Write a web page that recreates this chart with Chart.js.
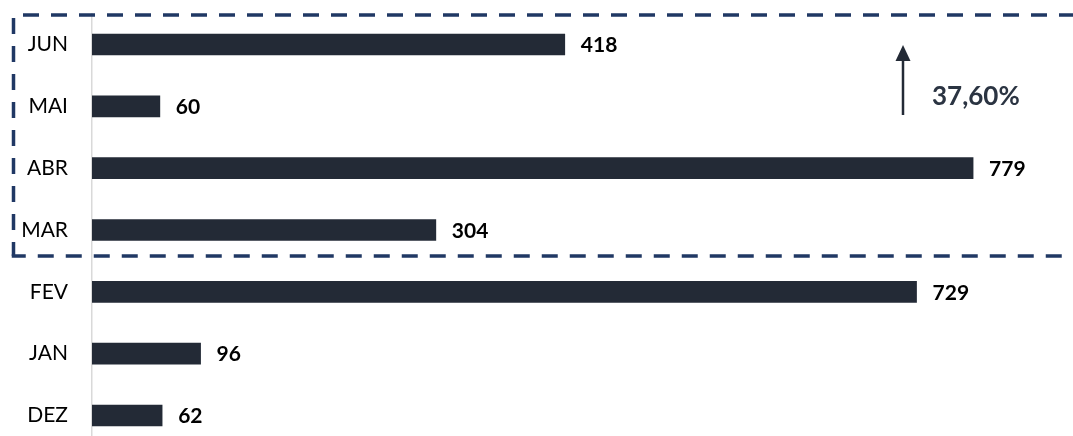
<!DOCTYPE html>
<html>
<head>
<meta charset="utf-8">
<script src="https://cdn.jsdelivr.net/npm/chart.js@4"></script>
<style>
  html, body { margin: 0; padding: 0; background: #ffffff; overflow: hidden; }
  #wrap { width: 1073px; height: 436px; overflow: hidden; }
</style>
</head>
<body>
<div id="wrap"><canvas id="c" width="1073" height="448"></canvas></div>
<script>
const categories = ["JUN", "MAI", "ABR", "MAR", "FEV", "JAN", "DEZ"];
const values = [418, 60, 779, 304, 729, 96, 62];
const growthLabel = "37,60%";

const BAR_COLOR = "#232a36";
const FRAME_COLOR = "#203864";

const decorPlugin = {
  id: "decor",
  afterDatasetsDraw(chart) {
    const ctx = chart.ctx;
    const meta = chart.getDatasetMeta(0);
    ctx.save();
    // value labels
    ctx.font = "bold 21px Lato";
    ctx.fillStyle = "#000000";
    ctx.textAlign = "left";
    ctx.textBaseline = "middle";
    meta.data.forEach((bar, i) => {
      ctx.fillText(String(values[i]), bar.x + 16, bar.y + 1);
    });

    // growth arrow
    ctx.strokeStyle = "#232a36";
    ctx.fillStyle = "#232a36";
    ctx.lineWidth = 2.5;
    ctx.beginPath();
    ctx.moveTo(903, 115);
    ctx.lineTo(903, 58);
    ctx.stroke();
    ctx.beginPath();
    ctx.moveTo(903, 45);
    ctx.lineTo(910.5, 61);
    ctx.lineTo(895.5, 61);
    ctx.closePath();
    ctx.fill();

    ctx.font = "bold 26px Lato";
    ctx.fillStyle = "#2b3442";
    ctx.textBaseline = "middle";
    ctx.fillText(growthLabel, 932, 97);

    // dashed frame
    ctx.strokeStyle = FRAME_COLOR;
    ctx.lineWidth = 3.5;
    ctx.lineCap = "butt";
    ctx.setLineDash([16, 12]);
    // top
    ctx.lineDashOffset = 18.5;
    ctx.beginPath();
    ctx.moveTo(13.5, 15);
    ctx.lineTo(1080, 15);
    ctx.stroke();
    // left (bottom -> top)
    ctx.lineDashOffset = 2;
    ctx.beginPath();
    ctx.moveTo(13.5, 256);
    ctx.lineTo(13.5, 15);
    ctx.stroke();
    // bottom
    ctx.lineDashOffset = 2;
    ctx.beginPath();
    ctx.moveTo(11.75, 256);
    ctx.lineTo(1066, 256);
    ctx.stroke();
    ctx.restore();
  }
};

new Chart(document.getElementById("c"), {
  type: "bar",
  data: {
    labels: categories,
    datasets: [{
      data: values,
      backgroundColor: BAR_COLOR,
      borderWidth: 0,
      barThickness: 21
    }]
  },
  options: {
    indexAxis: "y",
    responsive: false,
    animation: false,
    layout: { padding: { top: 13.6, bottom: 1.6, left: 0, right: 19.6 } },
    plugins: { legend: { display: false }, tooltip: { enabled: false } },
    scales: {
      x: {
        display: false,
        min: 0,
        max: 850
      },
      y: {
        afterFit(scale) {
          scale.width = 92;
          scale.paddingTop = 0;
          scale.paddingBottom = 0;
        },
        grid: { display: false, drawTicks: false },
        border: { display: true, color: "#d9d9d9", width: 1.5 },
        ticks: {
          padding: 24,
          color: "#000000",
          font: { family: "Lato", size: 21 }
        }
      }
    }
  },
  plugins: [decorPlugin]
});
</script>
</body>
</html>
